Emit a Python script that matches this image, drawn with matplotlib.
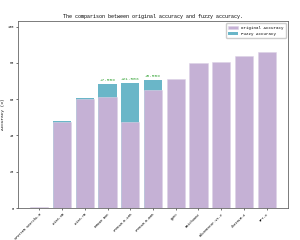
import matplotlib
matplotlib.use("Agg")
import matplotlib.pyplot as plt
import numpy as np

# Data
models = ["SPOTTER Search1.0", "Aiza-3B", "Aiza-7B", "ERNIE Bot", "CPMSSM-0-13B",
          "CPMSSM-0-66B", "Qwen", "Baichuan2", "BlueMentor-v1.2", "ChatGLM-4", "GPT-4"]
original = [0.5, 47.3, 60.2, 61.0, 47.5, 65.2, 71.3, 80.1, 80.5, 84.0, 86.0]
fuzzy = [None, 47.8, 60.4, 68.5, 69.0, 70.7, None, None, None, None, None]
gain_labels = {3: "+7.50%", 4: "+21.50%", 5: "+5.50%"}

plt.rcParams['font.family'] = ['Liberation Mono', 'DejaVu Sans Mono']

fig, ax = plt.subplots(figsize=(3, 2.4), dpi=100)
x = np.arange(len(models))

fz = [f if f is not None else 0 for f in fuzzy]
ax.bar(x, fz, width=0.8, color='#6ab6c8', label='Fuzzy Accuracy', zorder=2)
ax.bar(x, original, width=0.8, color='#c5b1d5', edgecolor='#ddd3e6', linewidth=0.4,
       label='Original Accuracy', zorder=3)

for i, txt in gain_labels.items():
    ax.text(x[i], fuzzy[i] + 1.2, txt, ha='center', va='bottom', fontsize=3.2,
            color='#2ca02c')

ax.set_ylim(0, 103)
ax.set_xticks(x)
ax.set_xticklabels(models, rotation=45, ha='right', rotation_mode='anchor', fontsize=2.5)
ax.tick_params(axis='both', labelsize=2.6, length=1.5, width=0.4, pad=1.5)
ax.set_ylabel("Accuracy (%)", fontsize=3.2, labelpad=2)
ax.set_title("The comparison between original accuracy and fuzzy accuracy.", fontsize=3.6, pad=2)
for s in ax.spines.values():
    s.set_color('#666666')
    s.set_linewidth(0.6)

handles, labels = ax.get_legend_handles_labels()
ax.legend(handles[::-1], labels[::-1], loc='upper right', fontsize=3, handlelength=2.2,
          borderpad=0.6, labelspacing=0.5, framealpha=1, edgecolor='#cccccc')

fig.subplots_adjust(left=0.06, right=0.96, top=0.912, bottom=0.133)
plt.savefig("out.png", dpi=100)
